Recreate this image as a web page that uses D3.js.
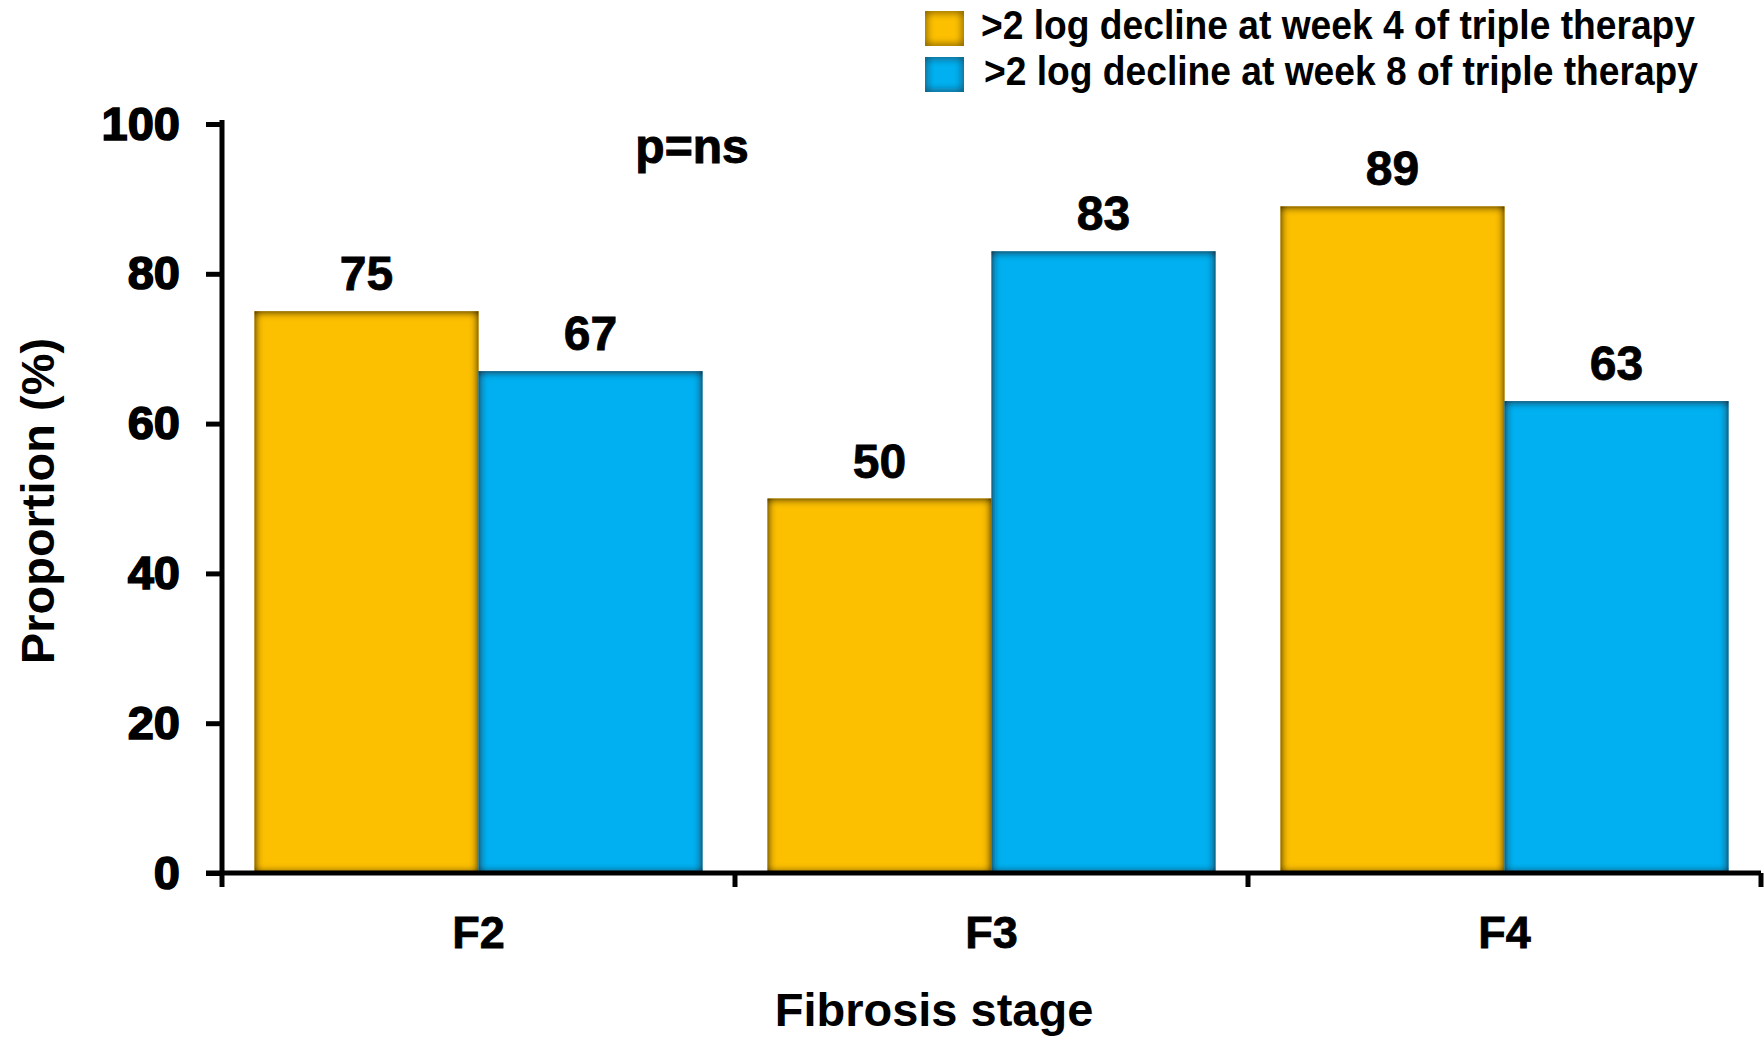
<!DOCTYPE html>
<html>
<head>
<meta charset="utf-8">
<script src="https://cdn.jsdelivr.net/npm/d3@7"></script>
<style>
  body { margin: 0; background: #fff; }
  text { font-family: "Liberation Sans", Arial, sans-serif; font-weight: bold; fill: #000; }
</style>
</head>
<body>
<svg id="chart" width="1764" height="1037"></svg>
<script>
var categories = ["F2", "F3", "F4"];
var week4 = [75, 50, 89];
var week8 = [67, 83, 63];
var seriesNames = [">2 log decline at week 4 of triple therapy", ">2 log decline at week 8 of triple therapy"];
var seriesColors = ["#fdc000", "#00b0f0"];
var yTicks = [0, 20, 40, 60, 80, 100];

var svg = d3.select("#chart");
var plotLeft = 222, plotRight = 1761, plotTop = 124, plotBottom = 873;

var x = d3.scaleBand().domain(categories).range([plotLeft, plotRight]).paddingInner(0).paddingOuter(0);
var inner = d3.scaleBand().domain([0, 1]).range([0, x.bandwidth()]).paddingOuter(0.145).paddingInner(0);
var y = d3.scaleLinear().domain([0, 100]).range([plotBottom, plotTop]);

// inset shadow on bars (darker edges like the original)
var defs = svg.append("defs");
var f = defs.append("filter").attr("id", "inset").attr("x", "-10%").attr("y", "-10%").attr("width", "120%").attr("height", "120%");
f.append("feFlood").attr("flood-color", "#1e1600").attr("flood-opacity", 1);
f.append("feComposite").attr("in2", "SourceAlpha").attr("operator", "out");
f.append("feGaussianBlur").attr("stdDeviation", 4).attr("result", "blur");
f.append("feComposite").attr("in2", "SourceAlpha").attr("operator", "in").attr("result", "shadow");
var merge = f.append("feMerge");
merge.append("feMergeNode").attr("in", "SourceGraphic");
merge.append("feMergeNode").attr("in", "shadow");
merge.append("feMergeNode").attr("in", "shadow");

var rows = [];
categories.forEach(function (c, i) {
    rows.push({cat: c, s: 0, v: week4[i]});
    rows.push({cat: c, s: 1, v: week8[i]});
});

svg.selectAll("rect.bar").data(rows).enter().append("rect")
    .attr("class", "bar")
    .attr("x", function (d) { return x(d.cat) + inner(d.s); })
    .attr("y", function (d) { return y(d.v); })
    .attr("width", inner.bandwidth())
    .attr("height", function (d) { return y(0) - y(d.v); })
    .attr("fill", function (d) { return seriesColors[d.s]; })
    .attr("filter", "url(#inset)");

svg.selectAll("text.val").data(rows).enter().append("text")
    .attr("class", "val")
    .attr("x", function (d) { return x(d.cat) + inner(d.s) + inner.bandwidth() / 2; })
    .attr("y", function (d) { return y(d.v) - 21; })
    .attr("text-anchor", "middle")
    .style("font-size", "48px")
    .attr("stroke", "#000").attr("stroke-width", 0.8)
    .text(function (d) { return d.v; });

// y axis
var yAxis = d3.axisLeft(y).tickValues(yTicks).tickSize(16).tickPadding(26);
var gy = svg.append("g").attr("transform", "translate(" + plotLeft + ",0)").call(yAxis);
gy.select(".domain").attr("d", "M0," + (plotTop - 4) + "V" + plotBottom).attr("stroke", "#000").attr("stroke-width", 5);
gy.selectAll(".tick line").attr("stroke", "#000").attr("stroke-width", 5);
gy.selectAll(".tick text").style("font-size", "47px").style("font-family", "Liberation Sans, Arial, sans-serif")
    .style("font-weight", "bold").attr("stroke", "#000").attr("stroke-width", 1.6).attr("fill", "#000");

// x axis
var xAxis = d3.axisBottom(x).tickValues([]).tickSizeOuter(0);
var gx = svg.append("g").attr("transform", "translate(0," + plotBottom + ")").call(xAxis);
gx.select(".domain").attr("d", "M" + (plotLeft - 16) + ",0H" + plotRight).attr("stroke", "#000").attr("stroke-width", 5);
var bounds = [plotLeft].concat(categories.map(function (c) { return x(c) + x.bandwidth(); }));
gx.selectAll("line.xt").data(bounds).enter().append("line")
    .attr("class", "xt")
    .attr("x1", function (d) { return d; }).attr("x2", function (d) { return d; })
    .attr("y1", 0).attr("y2", 14)
    .attr("stroke", "#000").attr("stroke-width", 5);

svg.selectAll("text.cat").data(categories).enter().append("text")
    .attr("class", "cat")
    .attr("x", function (c) { return x(c) + x.bandwidth() / 2; })
    .attr("y", 948)
    .attr("text-anchor", "middle")
    .style("font-size", "45px")
    .attr("stroke", "#000").attr("stroke-width", 0.8)
    .text(function (c) { return c; });

// titles
svg.append("text").attr("x", 934).attr("y", 1026).attr("text-anchor", "middle")
    .style("font-size", "47px").text("Fibrosis stage");
svg.append("text").attr("transform", "translate(54,501) rotate(-90)").attr("text-anchor", "middle")
    .style("font-size", "47px").text("Proportion (%)");
svg.append("text").attr("x", 692).attr("y", 163).attr("text-anchor", "middle")
    .style("font-size", "48px").attr("stroke", "#000").attr("stroke-width", 1)
    .text("p=ns");

// legend
var leg = svg.selectAll("g.leg").data(seriesNames).enter().append("g")
    .attr("class", "leg")
    .attr("transform", function (d, i) { return "translate(925," + (11 + i * 46) + ")"; });
leg.append("rect").attr("width", 39).attr("height", 35)
    .attr("fill", function (d, i) { return seriesColors[i]; })
    .attr("filter", "url(#inset)");
leg.append("text").attr("x", function (d, i) { return 56 + i * 3; }).attr("y", 28)
    .style("font-size", "40px")
    .attr("textLength", 714).attr("lengthAdjust", "spacingAndGlyphs")
    .text(function (d) { return d; });
</script>
</body>
</html>
